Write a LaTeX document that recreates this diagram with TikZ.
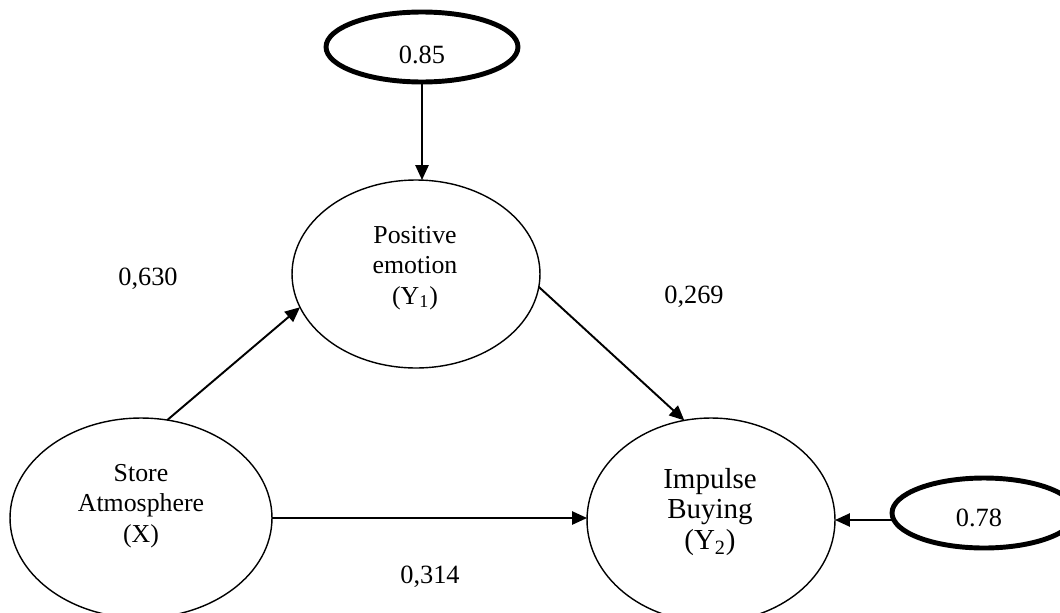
\documentclass[tikz,border=0pt]{standalone}
\usepackage{fontspec}
\setmainfont{Liberation Serif}
\usetikzlibrary{arrows.meta,calc}
\tikzset{
  ell/.style={ellipse, draw, line width=0.8pt, inner sep=0pt, outer sep=0pt},
  errell/.style={ellipse, draw, line width=2.8pt, inner sep=0pt, outer sep=0pt},
  arr/.style={line width=1.1pt, -{Triangle[length=8.5pt,width=7.5pt]}},
  lbl/.style={font=\fontsize{15}{17.3}\selectfont, anchor=base, inner sep=0pt},
  txt/.style={align=center, inner sep=0pt, font=\fontsize{14.7}{17.3}\selectfont},
  bigtxt/.style={align=center, inner sep=0pt, font=\fontsize{16.5}{17.6}\selectfont}
}
\usetikzlibrary{shapes.geometric}
\begin{document}
\begin{tikzpicture}[x=0.02cm, y=-0.02cm]
\clip (0,0) rectangle (1060,612);
\fill[white] (0,0) rectangle (1060,612);
% ellipses
\node[errell, minimum width=3.84cm, minimum height=1.4cm] (E85) at (422,47) {};
\node[ell, minimum width=4.96cm, minimum height=3.76cm] (Y1) at (416,274) {};
\node[ell, minimum width=5.24cm, minimum height=4.0cm] (X) at (141,518) {};
\node[ell, minimum width=4.96cm, minimum height=4.08cm] (Y2) at (711,520) {};
\node[errell, minimum width=3.68cm, minimum height=1.4cm] (E78) at (984,513) {};
% texts
\node[txt] (tY1) at (415,268) {Positive\\emotion\\(Y\textsubscript{1})};
\node[txt] (tX) at (141,506) {Store\\Atmosphere\\(X)};
\node[bigtxt] (tY2) at (710,512) {Impulse\\Buying\\(Y\textsubscript{2})};
\node[lbl] (t85) at (422,63) {0.85};
\node[lbl] (t78) at (979,526) {0.78};
\node[lbl] (l630) at (148,285) {0,630};
\node[lbl] (l269) at (694,303) {0,269};
\node[lbl] (l314) at (430,583) {0,314};
% arrows
\draw[arr] (E85.south) -- (E85.south |- Y1.north);
\draw[arr] (X.75) -- (Y1.196);
\draw[arr] (Y1.-6) -- (Y2.105);
\draw[arr] (X.east) -- (X.east -| Y2.west);
\draw[arr] (E78.west |- Y2.east) -- (Y2.east);
\end{tikzpicture}
\end{document}
